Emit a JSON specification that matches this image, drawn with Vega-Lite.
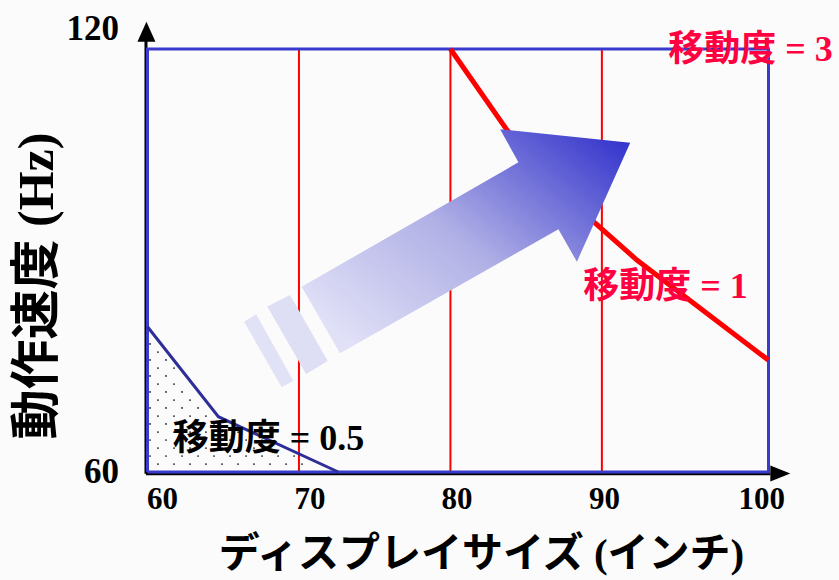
{
  "$schema": "https://vega.github.io/schema/vega-lite/v6.json",
  "width": 621,
  "height": 423,
  "autosize": {"type": "none"},
  "padding": {"left": 147.5, "top": 49, "right": 70.5, "bottom": 108},
  "background": "#fbfbfb",
  "config": {"view": {"stroke": null}},
  "datasets": {
    "vlines": [
      {"x": 70, "y": 60, "k": "a"}, {"x": 70, "y": 120, "k": "a"},
      {"x": 80, "y": 60, "k": "b"}, {"x": 80, "y": 120, "k": "b"},
      {"x": 90, "y": 60, "k": "c"}, {"x": 90, "y": 120, "k": "c"}
    ],
    "frame": [
      {"x": 60, "y": 60, "o": 1}, {"x": 60, "y": 120, "o": 2}, {"x": 101, "y": 120, "o": 3},
      {"x": 101, "y": 60, "o": 4}, {"x": 60, "y": 60, "o": 5}
    ],
    "curve1": [
      {"x": 80, "y": 120}, {"x": 83.73, "y": 108.51}, {"x": 89.45, "y": 95.5},
      {"x": 92.31, "y": 90.07}, {"x": 100.98, "y": 75.89}
    ],
    "tri": [
      {"x": 60, "y": 80.6}, {"x": 64.68, "y": 67.84}, {"x": 72.6, "y": 60}
    ],
    "dots": [
      {"x": 60.69, "y": 61.13}, {"x": 61.75, "y": 61.13}, {"x": 62.81, "y": 61.13}, {"x": 63.86, "y": 61.13}, {"x": 64.92, "y": 61.13},
      {"x": 65.98, "y": 61.13}, {"x": 67.03, "y": 61.13}, {"x": 68.09, "y": 61.13}, {"x": 69.15, "y": 61.13}, {"x": 70.2, "y": 61.13},
      {"x": 60.17, "y": 62.27}, {"x": 61.22, "y": 62.27}, {"x": 62.28, "y": 62.27}, {"x": 63.34, "y": 62.27}, {"x": 64.39, "y": 62.27},
      {"x": 65.45, "y": 62.27}, {"x": 66.51, "y": 62.27}, {"x": 67.56, "y": 62.27}, {"x": 68.62, "y": 62.27}, {"x": 69.68, "y": 62.27},
      {"x": 60.69, "y": 63.4}, {"x": 61.75, "y": 63.4}, {"x": 62.81, "y": 63.4}, {"x": 63.86, "y": 63.4}, {"x": 64.92, "y": 63.4},
      {"x": 65.98, "y": 63.4}, {"x": 67.03, "y": 63.4}, {"x": 68.09, "y": 63.4},
      {"x": 60.17, "y": 64.54}, {"x": 61.22, "y": 64.54}, {"x": 62.28, "y": 64.54}, {"x": 63.34, "y": 64.54}, {"x": 64.39, "y": 64.54},
      {"x": 65.45, "y": 64.54}, {"x": 66.51, "y": 64.54}, {"x": 67.56, "y": 64.54},
      {"x": 60.69, "y": 65.67}, {"x": 61.75, "y": 65.67}, {"x": 62.81, "y": 65.67}, {"x": 63.86, "y": 65.67}, {"x": 64.92, "y": 65.67},
      {"x": 65.98, "y": 65.67},
      {"x": 60.17, "y": 66.81}, {"x": 61.22, "y": 66.81}, {"x": 62.28, "y": 66.81}, {"x": 63.34, "y": 66.81}, {"x": 64.39, "y": 66.81},
      {"x": 60.69, "y": 67.94}, {"x": 61.75, "y": 67.94}, {"x": 62.81, "y": 67.94}, {"x": 63.86, "y": 67.94},
      {"x": 60.17, "y": 69.08}, {"x": 61.22, "y": 69.08}, {"x": 62.28, "y": 69.08}, {"x": 63.34, "y": 69.08},
      {"x": 60.69, "y": 70.21}, {"x": 61.75, "y": 70.21}, {"x": 62.81, "y": 70.21},
      {"x": 60.17, "y": 71.35}, {"x": 61.22, "y": 71.35}, {"x": 62.28, "y": 71.35},
      {"x": 60.69, "y": 72.48}, {"x": 61.75, "y": 72.48},
      {"x": 60.17, "y": 73.62}, {"x": 61.22, "y": 73.62},
      {"x": 60.69, "y": 74.75}, {"x": 61.75, "y": 74.75},
      {"x": 60.17, "y": 75.89}, {"x": 61.22, "y": 75.89},
      {"x": 60.69, "y": 77.02},
      {"x": 60.17, "y": 78.16}
    ],
    "shapes": [
      {"shape": "arrow", "x": 72.71, "y": 76.84, "o": 1},
      {"shape": "arrow", "x": 70.18, "y": 86.28, "o": 2},
      {"shape": "arrow", "x": 84.49, "y": 103.93, "o": 3},
      {"shape": "arrow", "x": 83.28, "y": 108.61, "o": 4},
      {"shape": "arrow", "x": 91.87, "y": 106.71, "o": 5},
      {"shape": "arrow", "x": 88.35, "y": 89.83, "o": 6},
      {"shape": "arrow", "x": 87.13, "y": 94.43, "o": 7},
      {"shape": "arrow", "x": 72.71, "y": 76.84, "o": 8},
      {"shape": "s1", "x": 67.91, "y": 83.48, "o": 1},
      {"shape": "s1", "x": 69.41, "y": 85.11, "o": 2},
      {"shape": "s1", "x": 71.9, "y": 75.74, "o": 3},
      {"shape": "s1", "x": 70.47, "y": 73.9, "o": 4},
      {"shape": "s1", "x": 67.91, "y": 83.48, "o": 5},
      {"shape": "s2", "x": 66.37, "y": 81.32, "o": 1},
      {"shape": "s2", "x": 67.17, "y": 82.37, "o": 2},
      {"shape": "s2", "x": 69.63, "y": 72.95, "o": 3},
      {"shape": "s2", "x": 68.86, "y": 72.01, "o": 4},
      {"shape": "s2", "x": 66.37, "y": 81.32, "o": 5}
    ],
    "axislines": [
      {"x": 59.9, "y": 59.75, "k": "v"}, {"x": 59.9, "y": 121.2, "k": "v"},
      {"x": 59.9, "y": 59.75, "k": "h"}, {"x": 101.12, "y": 59.75, "k": "h"}
    ],
    "arrowheads": [
      {"x": 59.93, "y": 122.45, "dir": "up"},
      {"x": 101.78, "y": 59.77, "dir": "right"}
    ],
    "redlabels": [
      {"label": "移動度 = 3", "x": 94.38, "y": 119.86},
      {"label": "移動度 = 1", "x": 88.77, "y": 86.24}
    ],
    "blacklabels": [
      {"label": "移動度 = 0.5", "x": 61.66, "y": 64.68}
    ]
  },
  "encoding": {
    "x": {
      "field": "x", "type": "quantitative",
      "scale": {"domain": [60, 101], "nice": false, "zero": false},
      "axis": {
        "values": [60, 70, 80, 90, 100],
        "domain": false, "ticks": false, "grid": false,
        "labelFont": "Liberation Serif", "labelFontWeight": "bold", "labelFontSize": 31,
        "labelColor": "#000000", "labelPadding": 12, "labelFlush": false, "labelOverlap": false,
        "labelOffset": {
          "condition": [
            {"test": "datum.value == 60", "value": 14.5},
            {"test": "datum.value == 70", "value": 10.5},
            {"test": "datum.value == 80", "value": 6},
            {"test": "datum.value == 90", "value": 2}
          ],
          "value": 8
        },
        "title": "ディスプレイサイズ (インチ)",
        "titleFont": "'Liberation Serif', 'Noto Sans CJK JP'", "titleFontWeight": "bold",
        "titleFontSize": 41, "titleColor": "#000000",
        "titleX": 333.5, "titleY": 82, "titleAlign": "center", "titleBaseline": "middle"
      }
    },
    "y": {
      "field": "y", "type": "quantitative",
      "scale": {"domain": [60, 120], "nice": false, "zero": false},
      "axis": {
        "values": [60, 120],
        "domain": false, "ticks": false, "grid": false,
        "labelFont": "Liberation Serif", "labelFontWeight": "bold", "labelFontSize": 35,
        "labelColor": "#000000", "labelPadding": 29, "labelFlush": false, "labelOverlap": false,
        "labelOffset": {"condition": {"test": "datum.value == 120", "value": -21}, "value": -1},
        "title": "動作速度 (Hz)",
        "titleFont": "'Liberation Serif', 'Noto Sans CJK JP'", "titleFontWeight": "bold",
        "titleFontSize": 50, "titleColor": "#000000",
        "titleX": -110, "titleY": 236.5, "titleAngle": 270, "titleAlign": "center", "titleBaseline": "middle"
      }
    }
  },
  "layer": [
    {
      "data": {"name": "axislines"},
      "mark": {"type": "line", "color": "#000000", "strokeWidth": 3},
      "encoding": {"detail": {"field": "k"}}
    },
    {
      "data": {"name": "dots"},
      "mark": {"type": "circle", "size": 3, "color": "#111111", "opacity": 1},
      "encoding": {}
    },
    {
      "data": {"name": "vlines"},
      "mark": {"type": "line", "color": "#ff0000", "strokeWidth": 2},
      "encoding": {"detail": {"field": "k"}}
    },
    {
      "data": {"name": "frame"},
      "mark": {"type": "line", "color": "#3a3acc", "strokeWidth": 3},
      "encoding": {"order": {"field": "o", "type": "quantitative"}}
    },
    {
      "data": {"name": "curve1"},
      "mark": {"type": "line", "color": "#ff0000", "strokeWidth": 5},
      "encoding": {}
    },
    {
      "data": {"name": "tri"},
      "mark": {"type": "line", "color": "#2e2e99", "strokeWidth": 3},
      "encoding": {}
    },
    {
      "data": {"name": "shapes"},
      "transform": [{"filter": "datum.shape == 's2'"}],
      "mark": {"type": "line", "fill": "#e2e2f6", "stroke": null, "strokeWidth": 0},
      "encoding": {"order": {"field": "o", "type": "quantitative"}}
    },
    {
      "data": {"name": "shapes"},
      "transform": [{"filter": "datum.shape == 's1'"}],
      "mark": {"type": "line", "fill": "#dedef5", "stroke": null, "strokeWidth": 0},
      "encoding": {"order": {"field": "o", "type": "quantitative"}}
    },
    {
      "data": {"name": "shapes"},
      "transform": [{"filter": "datum.shape == 'arrow'"}],
      "mark": {
        "type": "line", "stroke": null, "strokeWidth": 0,
        "fill": {
          "gradient": "linear", "x1": 0.06, "y1": 0.85, "x2": 1, "y2": 0.06,
          "stops": [
            {"offset": 0, "color": "#e0e0f7"},
            {"offset": 0.45, "color": "#b0b0e6"},
            {"offset": 1, "color": "#3333cc"}
          ]
        }
      },
      "encoding": {"order": {"field": "o", "type": "quantitative"}}
    },
    {
      "data": {"name": "arrowheads"},
      "transform": [{"filter": "datum.dir == 'up'"}],
      "mark": {"type": "point", "shape": "M0,-1L-0.9,1L0.9,1Z", "size": 400, "filled": true, "color": "#000000", "opacity": 1},
      "encoding": {}
    },
    {
      "data": {"name": "arrowheads"},
      "transform": [{"filter": "datum.dir == 'right'"}],
      "mark": {"type": "point", "shape": "M1,0L-1,-0.8L-1,0.8Z", "size": 400, "filled": true, "color": "#000000", "opacity": 1},
      "encoding": {}
    },
    {
      "data": {"name": "redlabels"},
      "mark": {"type": "text", "align": "left", "baseline": "middle", "font": "'Liberation Serif', 'Noto Sans CJK JP'", "fontWeight": "bold", "fontSize": 36, "color": "#ff0040"},
      "encoding": {"text": {"field": "label"}}
    },
    {
      "data": {"name": "blacklabels"},
      "mark": {"type": "text", "align": "left", "baseline": "middle", "font": "'Liberation Serif', 'Noto Sans CJK JP'", "fontWeight": "bold", "fontSize": 36, "color": "#000000"},
      "encoding": {"text": {"field": "label"}}
    }
  ]
}
